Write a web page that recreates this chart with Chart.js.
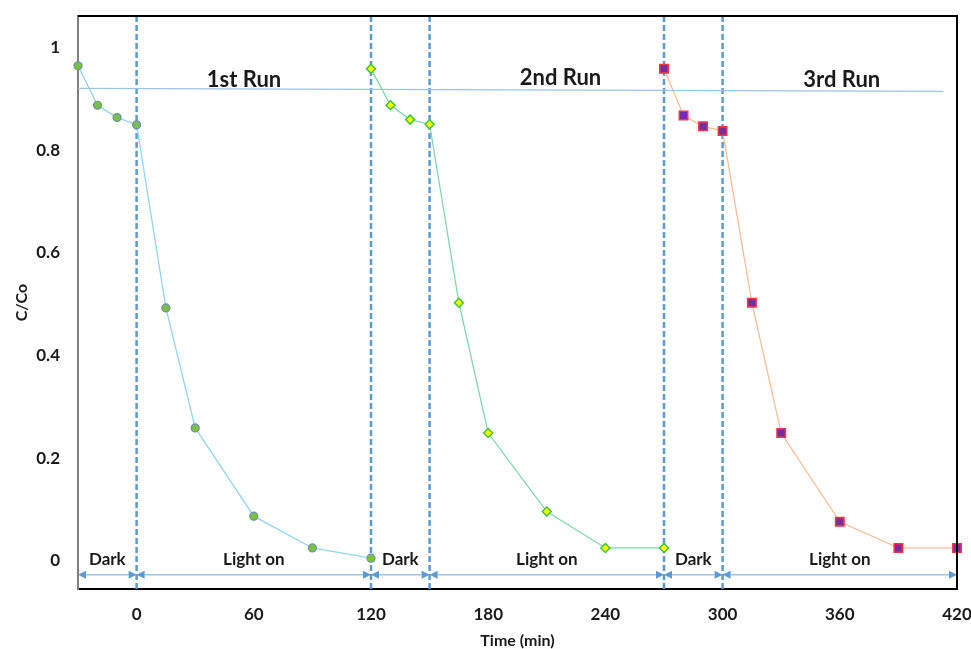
<!DOCTYPE html>
<html>
<head>
<meta charset="utf-8">
<script src="https://cdn.jsdelivr.net/npm/chart.js"></script>
<style>
  html, body { margin: 0; padding: 0; background: #fff; }
</style>
</head>
<body>
<canvas id="myChart" width="971" height="649"></canvas>
<script>
// data
const run1X = [-30, -20, -10, 0, 15, 30, 60, 90, 120];
const run1Y = [0.965, 0.888, 0.864, 0.850, 0.493, 0.259, 0.087, 0.025, 0.005];
const run2X = [120, 130, 140, 150, 165, 180, 210, 240, 270];
const run2Y = [0.959, 0.888, 0.860, 0.851, 0.503, 0.249, 0.096, 0.025, 0.025];
const run3X = [270, 280, 290, 300, 315, 330, 360, 390, 420];
const run3Y = [0.959, 0.868, 0.847, 0.838, 0.503, 0.249, 0.076, 0.025, 0.025];
const refLineX = [-30, 413];
const refLineY = [0.921, 0.915];
const xTicks = [0, 60, 120, 180, 240, 300, 360, 420];
const yTicks = [0, 0.2, 0.4, 0.6, 0.8, 1];
const runLabels = ['1st Run', '2nd Run', '3rd Run'];
const phaseEdges = [-30, 0, 120, 150, 270, 300, 420];
const phaseLabels = ['Dark', 'Light on', 'Dark', 'Light on', 'Dark', 'Light on'];
const dividers = [0, 120, 150, 270, 300];

function pts(xs, ys){
  return xs.map((v, i) => ({x: v, y: ys[i]}));
}

function noPad(s){
  s.paddingTop = 0; s.paddingBottom = 0; s.paddingLeft = 0; s.paddingRight = 0;
}

const FONT = 'Lato, "Open Sans", sans-serif';
const TEXT = '#1a1a1a';

const extras = {
  id: 'extras',
  beforeDatasetsDraw(chart){
    const {ctx, chartArea: a, scales: {x}} = chart;
    ctx.save();
    ctx.strokeStyle = '#5B9BD5';
    ctx.lineWidth = 2.5;
    ctx.setLineDash([6, 3]);
    dividers.forEach(v => {
      const px = x.getPixelForValue(v);
      ctx.beginPath();
      ctx.moveTo(px, a.top);
      ctx.lineTo(px, a.bottom);
      ctx.stroke();
    });
    ctx.restore();
  },
  afterDatasetsDraw(chart, args, opts){
    const {ctx, chartArea: a, scales: {x, y}} = chart;
    ctx.save();

    // phase arrows + labels
    const ay = y.getPixelForValue(opts.arrowY);
    const head = 8, hh = 4;
    ctx.font = 'bold 17px ' + FONT;
    ctx.textAlign = 'center';
    ctx.textBaseline = 'middle';
    for (let i = 0; i < phaseLabels.length; i++){
      const x0 = x.getPixelForValue(phaseEdges[i]);
      const x1 = x.getPixelForValue(phaseEdges[i+1]);
      ctx.strokeStyle = '#9DC3E6';
      ctx.lineWidth = 1.5;
      ctx.beginPath();
      ctx.moveTo(x0 + head, ay);
      ctx.lineTo(x1 - head, ay);
      ctx.stroke();
      ctx.fillStyle = '#5B9BD5';
      ctx.beginPath();
      ctx.moveTo(x0, ay); ctx.lineTo(x0 + head, ay - hh); ctx.lineTo(x0 + head, ay + hh);
      ctx.closePath(); ctx.fill();
      ctx.beginPath();
      ctx.moveTo(x1, ay); ctx.lineTo(x1 - head, ay - hh); ctx.lineTo(x1 - head, ay + hh);
      ctx.closePath(); ctx.fill();
      ctx.fillStyle = TEXT;
      ctx.fillText(phaseLabels[i], (x0 + x1) / 2, ay - 15);
    }

    // run titles
    ctx.font = 'bold 22px ' + FONT;
    runLabels.forEach((t, i) => {
      ctx.fillText(t, x.getPixelForValue(opts.runX[i]), y.getPixelForValue(opts.runY[i]));
    });

    // top and right frame
    ctx.strokeStyle = '#000';
    ctx.lineWidth = 2;
    ctx.beginPath();
    ctx.moveTo(a.left, a.top);
    ctx.lineTo(a.right, a.top);
    ctx.lineTo(a.right, a.bottom);
    ctx.stroke();
    ctx.restore();
  }
};

const ctx = document.getElementById('myChart');

new Chart(ctx, {
  type: 'line',
  data: {
    datasets: [
      {
        label: 'ref',
        data: pts(refLineX, refLineY),
        borderColor: '#9DC3E6',
        borderWidth: 1.2,
        pointRadius: 0
      },
      {
        label: '1st Run',
        data: pts(run1X, run1Y),
        borderColor: '#8FD6F2',
        borderWidth: 1.3,
        pointStyle: 'circle',
        pointRadius: 4,
        pointBackgroundColor: '#7AC143',
        pointBorderColor: '#6B8FAE',
        pointBorderWidth: 1.2
      },
      {
        label: '2nd Run',
        data: pts(run2X, run2Y),
        borderColor: '#7FD9A6',
        borderWidth: 1.3,
        pointStyle: 'rectRot',
        pointRadius: 4.5,
        pointBackgroundColor: '#FFFF00',
        pointBorderColor: '#3CC43C',
        pointBorderWidth: 1.5
      },
      {
        label: '3rd Run',
        data: pts(run3X, run3Y),
        borderColor: '#F8BE96',
        borderWidth: 1.3,
        pointStyle: 'rect',
        pointRadius: 6,
        pointBackgroundColor: '#7030A0',
        pointBorderColor: '#FF3344',
        pointBorderWidth: 1.5
      }
    ]
  },
  options: {
    responsive: false,
    animation: false,
    clip: false,
    layout: { padding: { top: 16, right: 14, left: 0, bottom: 0 } },
    plugins: {
      legend: { display: false },
      tooltip: { enabled: false },
      extras: { arrowY: -0.027, runX: [55, 217, 361], runY: [0.938, 0.942, 0.938] }
    },
    scales: {
      x: {
        type: 'linear',
        min: -30,
        max: 420,
        afterBuildTicks: s => { s.ticks = xTicks.map(v => ({value: v})); },
        afterFit: s => { s.height = 60; noPad(s); },
        grid: { display: false, drawTicks: false },
        border: { color: '#000', width: 2 },
        ticks: { padding: 15, color: TEXT, font: { family: FONT, size: 17, weight: 'bold' } },
        title: {
          display: true, text: 'Time (min)', color: TEXT,
          font: { family: FONT, size: 16, weight: 'bold', lineHeight: 1 },
          padding: { top: 0, bottom: 0 }
        }
      },
      y: {
        min: -0.055,
        max: 1.062,
        afterBuildTicks: s => { s.ticks = yTicks.map(v => ({value: v})); },
        afterFit: s => { s.width = 78; noPad(s); },
        grid: { display: false, drawTicks: false },
        border: { color: '#7F7F7F', width: 2 },
        ticks: {
          padding: 18, color: TEXT, font: { family: FONT, size: 17, weight: 'bold' },
          callback: v => String(v)
        },
        title: {
          display: true, text: 'C/Co', color: TEXT,
          font: { family: FONT, size: 16, weight: 'bold', lineHeight: 1 },
          padding: { top: 14, bottom: 0 }
        }
      }
    }
  },
  plugins: [extras]
});
</script>
</body>
</html>
